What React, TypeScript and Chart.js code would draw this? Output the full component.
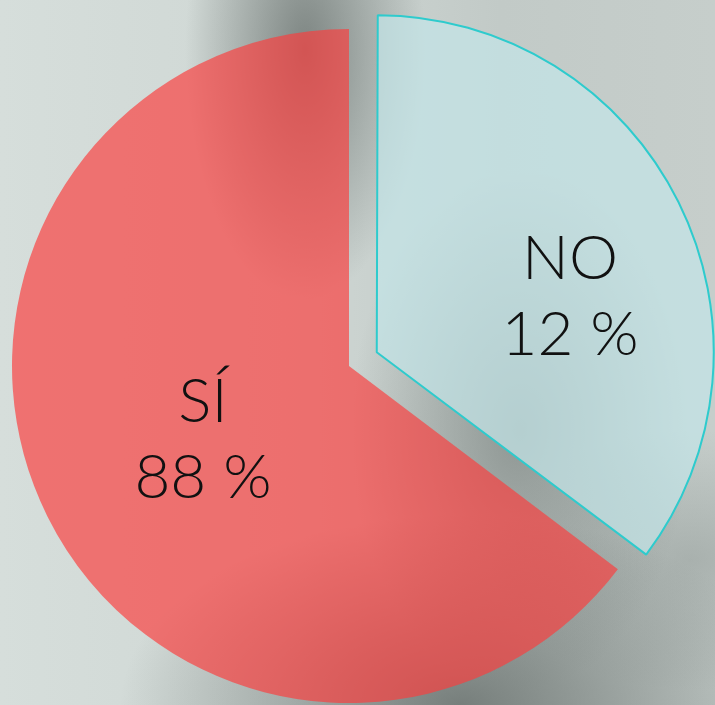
import React, { useEffect, useRef } from "react";
import { Chart, registerables } from "chart.js";

Chart.register(...registerables);

const categories = ["NO", "SÍ"];
const sliceValues = [35.3, 64.7];
const labelLines = [
  ["NO", "12 %"],
  ["SÍ", "88 %"],
];

// keeps an exploded slice at the same radius as the others
const keepRadiusPlugin = {
  id: "keepRadius",
  beforeDatasetsDraw(chart: any) {
    const meta = chart.getDatasetMeta(0);
    meta.data.forEach((arc: any) => {
      const off = (arc.options.offset || 0) / 4;
      if (!off) return;
      const circ = arc.endAngle - arc.startAngle;
      const fix = 1 - Math.sin(Math.min(Math.PI, circ));
      if (arc.$baseR === undefined) arc.$baseR = arc.outerRadius;
      arc.outerRadius = arc.$baseR - off * fix;
    });
  },
};

const labelPlugin = {
  id: "sliceLabels",
  afterDatasetsDraw(chart: any, _args: any, opts: any) {
    const ctx = chart.ctx;
    const meta = chart.getDatasetMeta(0);
    meta.data.forEach((arc: any, i: number) => {
      const { x, y, startAngle, endAngle } = arc;
      const R = arc.$baseR !== undefined ? arc.$baseR : arc.outerRadius;
      const ang = (startAngle + endAngle) / 2 + (opts.angleShift[i] * Math.PI) / 180;
      const r = R * opts.radiusFrac[i];
      const cx = x + Math.cos(ang) * r;
      const cy = y + Math.sin(ang) * r;
      const lines = labelLines[i];
      ctx.save();
      ctx.fillStyle = "#111111";
      ctx.font = opts.font;
      ctx.textAlign = "center";
      ctx.textBaseline = "alphabetic";
      const gap = opts.lineGap;
      ctx.fillText(lines[0], cx, cy - gap / 2);
      ctx.fillText(lines[1], cx, cy + gap / 2);
      ctx.restore();
    });
  },
};

export default function App() {
  const ref = useRef<HTMLCanvasElement | null>(null);
  useEffect(() => {
    if (!ref.current) return;
    const chart = new Chart(ref.current, {
      type: "pie",
      data: {
        labels: categories,
        datasets: [
          {
            data: sliceValues,
            backgroundColor: ["rgba(196, 228, 232, 0.72)", "rgba(250, 62, 62, 0.68)"],
            borderColor: ["#2ecbcd", "rgba(0,0,0,0)"],
            borderWidth: [2, 0],
            offset: [124, 0],
            hoverOffset: 0,
          },
        ],
      },
      options: {
        responsive: false,
        animation: false,
        radius: 337,
        layout: { padding: { left: 0, right: 17, top: 27, bottom: 0 } },
        plugins: {
          legend: { display: false },
          tooltip: { enabled: false },
          sliceLabels: {
            angleShift: [13.9, -6.4],
            radiusFrac: [0.672, 0.516],
            lineGap: 76,
            font: "300 62px Lato, 'Open Sans', sans-serif",
          },
        } as any,
        events: [],
      },
      plugins: [keepRadiusPlugin, labelPlugin],
    });
    return () => chart.destroy();
  }, []);

  const bg = [
    "radial-gradient(ellipse 120px 250px at 305px 50px, rgba(105,113,110,0.8), rgba(105,113,110,0) 100%)",
    "radial-gradient(ellipse 340px 190px at 460px 705px, rgba(105,113,110,0.85), rgba(105,113,110,0) 100%)",
    "radial-gradient(ellipse 170px 260px at 520px 430px, rgba(115,123,120,0.65), rgba(115,123,120,0) 100%)",
    "radial-gradient(ellipse 200px 130px at 690px 560px, rgba(140,148,145,0.5), rgba(140,148,145,0) 100%)",
    "linear-gradient(90deg, #d6dedb 0%, #cfd7d4 40%, #c2cac7 70%, #c6cecb 100%)",
  ].join(", ");

  return (
    <div
      style={{
        position: "fixed",
        left: 0,
        top: 0,
        width: 715,
        height: 705,
        background: bg,
        overflow: "hidden",
      }}
    >
      <canvas ref={ref} width={715} height={705} style={{ display: "block", width: 715, height: 705 }} />
    </div>
  );
}
